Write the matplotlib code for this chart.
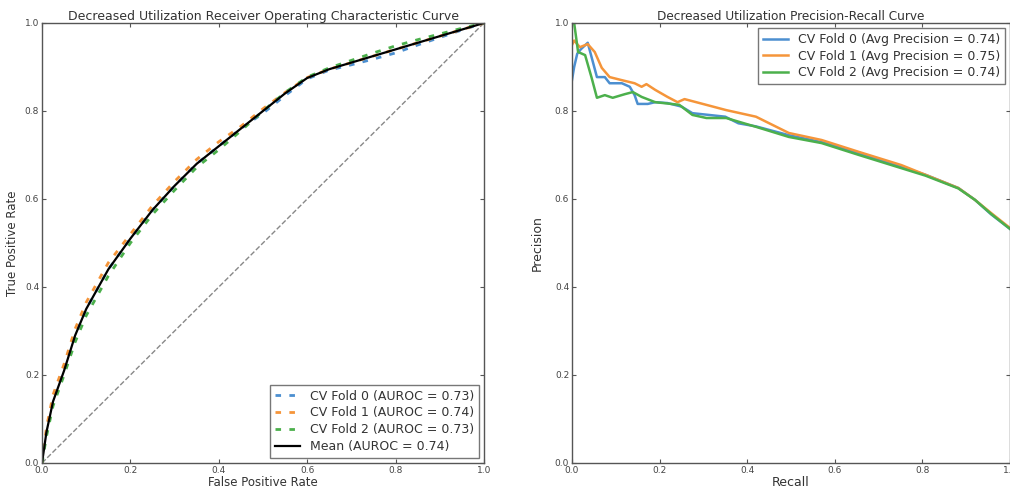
import matplotlib
matplotlib.use("Agg")
import matplotlib.pyplot as plt

plt.rcParams["font.family"] = ["DejaVu Sans"]
plt.rcParams["xtick.direction"] = "in"
plt.rcParams["ytick.direction"] = "in"
plt.rcParams["xtick.top"] = True
plt.rcParams["ytick.right"] = True

# ---- ROC data ----
roc_fpr = [0, 0.01, 0.025, 0.05, 0.075, 0.1, 0.15, 0.2, 0.25, 0.3, 0.35, 0.4,
           0.45, 0.5, 0.55, 0.6, 0.65, 0.7, 0.75, 0.8, 0.85, 0.9, 0.95, 1.0]
roc_mean = [0, 0.07, 0.14, 0.21, 0.29, 0.35, 0.44, 0.51, 0.575, 0.63, 0.68, 0.72,
            0.76, 0.80, 0.84, 0.875, 0.895, 0.91, 0.925, 0.94, 0.955, 0.97, 0.985, 1.0]
roc_fold0 = [0, 0.07, 0.145, 0.215, 0.29, 0.35, 0.44, 0.51, 0.575, 0.63, 0.68, 0.72,
             0.76, 0.795, 0.835, 0.873, 0.893, 0.905, 0.918, 0.932, 0.95, 0.967, 0.984, 1.0]
roc_fold1 = [0, 0.08, 0.155, 0.225, 0.305, 0.365, 0.455, 0.52, 0.585, 0.64, 0.69, 0.73,
             0.765, 0.805, 0.842, 0.876, 0.895, 0.91, 0.925, 0.94, 0.955, 0.97, 0.985, 1.0]
roc_fold2 = [0, 0.06, 0.13, 0.2, 0.275, 0.335, 0.425, 0.5, 0.565, 0.62, 0.672, 0.712,
             0.755, 0.80, 0.842, 0.877, 0.898, 0.915, 0.932, 0.948, 0.962, 0.975, 0.988, 1.0]
roc_labels = ["CV Fold 0 (AUROC = 0.73)", "CV Fold 1 (AUROC = 0.74)",
              "CV Fold 2 (AUROC = 0.73)", "Mean (AUROC = 0.74)"]

# ---- Precision-recall data ----
pr0_recall = [0, 0.005, 0.012, 0.02, 0.036, 0.057, 0.075, 0.086, 0.114, 0.132, 0.143,
              0.15, 0.173, 0.19, 0.218, 0.25, 0.275, 0.35, 0.38, 0.42, 0.495, 0.58,
              0.655, 0.752, 0.807, 0.882, 0.92, 0.957, 1.0]
pr0_prec = [0.87, 0.9, 0.93, 0.94, 0.955, 0.877, 0.877, 0.863, 0.863, 0.855, 0.836,
            0.816, 0.816, 0.82, 0.818, 0.81, 0.795, 0.787, 0.772, 0.765, 0.745, 0.727,
            0.704, 0.673, 0.655, 0.625, 0.598, 0.565, 0.532]
pr1_recall = [0, 0.005, 0.018, 0.036, 0.052, 0.068, 0.086, 0.114, 0.143, 0.159, 0.17,
              0.19, 0.218, 0.241, 0.257, 0.352, 0.42, 0.495, 0.57, 0.655, 0.752,
              0.807, 0.882, 0.92, 0.957, 1.0]
pr1_prec = [0.95, 0.96, 0.945, 0.952, 0.934, 0.898, 0.877, 0.87, 0.863, 0.855, 0.861,
            0.848, 0.832, 0.82, 0.827, 0.802, 0.787, 0.75, 0.734, 0.707, 0.677,
            0.655, 0.625, 0.598, 0.568, 0.534]
pr2_recall = [0, 0.005, 0.014, 0.03, 0.045, 0.057, 0.075, 0.093, 0.12, 0.139, 0.159,
              0.19, 0.227, 0.245, 0.275, 0.307, 0.352, 0.42, 0.495, 0.57, 0.655,
              0.752, 0.807, 0.882, 0.92, 0.957, 1.0]
pr2_prec = [1.0, 1.0, 0.934, 0.927, 0.875, 0.83, 0.836, 0.83, 0.838, 0.843, 0.832,
            0.82, 0.816, 0.814, 0.791, 0.784, 0.784, 0.764, 0.741, 0.727, 0.70,
            0.67, 0.653, 0.624, 0.598, 0.566, 0.532]
pr_labels = ["CV Fold 0 (Avg Precision = 0.74)", "CV Fold 1 (Avg Precision = 0.75)",
             "CV Fold 2 (Avg Precision = 0.74)"]

BLUE = "#4c8fd0"
ORANGE = "#f5953a"
GREEN = "#4cb04c"
SPINE = "#555555"
TXT = "#333333"
ticks = [0.0, 0.2, 0.4, 0.6, 0.8, 1.0]

fig = plt.figure(figsize=(10.1, 4.93), dpi=100, facecolor="white")
ax1 = fig.add_axes([0.0416, 0.0609, 0.4376, 0.8925])
ax2 = fig.add_axes([0.5663, 0.0609, 0.4337, 0.8925])


def style(ax):
    ax.set_xlim(0, 1)
    ax.set_ylim(0, 1)
    ax.set_xticks(ticks)
    ax.set_yticks(ticks)
    ax.tick_params(labelsize=6.5, colors=SPINE, labelcolor="#444444", length=3, pad=2)
    for s in ax.spines.values():
        s.set_color(SPINE)
        s.set_linewidth(1.0)


# ROC
ax1.plot([0, 1], [0, 1], linestyle="--", color="#888888", linewidth=1.0)
for y, c, lab in zip([roc_fold0, roc_fold1, roc_fold2], [BLUE, ORANGE, GREEN], roc_labels[:3]):
    ax1.plot(roc_fpr, y, linestyle="--", dashes=(2, 3), color=c, linewidth=2, label=lab)
ax1.plot(roc_fpr, roc_mean, color="black", linewidth=1.6, label=roc_labels[3])
style(ax1)
ax1.set_title("Decreased Utilization Receiver Operating Characteristic Curve",
              fontsize=9, color=TXT, pad=2)
ax1.set_xlabel("False Positive Rate", fontsize=8.5, color=TXT, labelpad=1)
ax1.set_ylabel("True Positive Rate", fontsize=8.5, color=TXT, labelpad=4)
leg = ax1.legend(loc="lower right", fontsize=9, fancybox=False, edgecolor=SPINE,
                 handlelength=2, borderaxespad=0.4, labelspacing=0.3)
for t in leg.get_texts():
    t.set_color(TXT)

# PR
for r, p, c, lab in zip([pr0_recall, pr1_recall, pr2_recall], [pr0_prec, pr1_prec, pr2_prec],
                        [BLUE, ORANGE, GREEN], pr_labels):
    ax2.plot(r, p, color=c, linewidth=1.8, label=lab)
style(ax2)
ax2.set_title("Decreased Utilization Precision-Recall Curve", fontsize=8.7, color=TXT, pad=2)
ax2.set_xlabel("Recall", fontsize=9, color=TXT, labelpad=1)
ax2.set_ylabel("Precision", fontsize=9, color=TXT, labelpad=8)
leg2 = ax2.legend(loc="upper right", fontsize=9, fancybox=False, edgecolor=SPINE,
                  handlelength=2, borderaxespad=0.4, labelspacing=0.3)
for t in leg2.get_texts():
    t.set_color(TXT)

fig.savefig("out.png", dpi=100, facecolor="white")
